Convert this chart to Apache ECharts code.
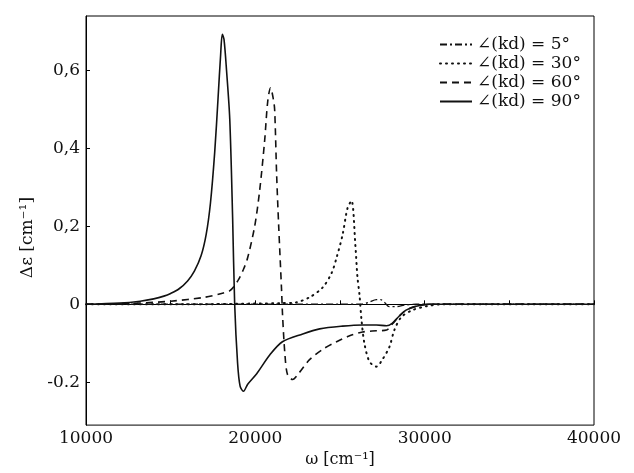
<!DOCTYPE html>
<html>
<head>
<meta charset="utf-8">
<script src="https://cdn.jsdelivr.net/npm/echarts@6/dist/echarts.min.js"></script>
<style>
  html, body { margin: 0; padding: 0; background: #fff; }
  #main { width: 634px; height: 473px; }
</style>
</head>
<body>
<div id="main"></div>
<script>
// omega [cm-1] and delta epsilon values
var w5 = [10000, 14000, 18000, 22000, 25000, 26200, 26700, 27150, 27400, 27650, 27900, 28300, 28800, 29500, 32000, 40000];
var d5 = [0, 0, 0, 0, 0, 0, 0.005, 0.012, 0.012, 0.004, -0.006, -0.006, -0.002, 0, 0, 0];

var w30 = [10000, 16000, 20000, 21500, 22400, 23200, 23970, 24500, 24800, 25150, 25440, 25680, 25910, 26030, 26150, 26270, 26440, 26740, 27150, 27500, 27920, 28210, 28620, 29270, 30100, 31000, 40000];
var d30 = [0, 0, 0.002, 0.003, 0.005, 0.018, 0.043, 0.08, 0.12, 0.178, 0.246, 0.266, 0.15, 0.07, 0.025, -0.04, -0.10, -0.147, -0.16, -0.142, -0.109, -0.066, -0.033, -0.015, -0.005, 0, 0];

var w60 = [10000, 13000, 15000, 17000, 18000, 18500, 18960, 19300, 19550, 19960, 20250, 20550, 20730, 20900, 21050, 21140, 21260, 21380, 21550, 21610, 21750, 21900, 22200, 22600, 23200, 24000, 24800, 25500, 26330, 27150, 27750, 28100, 28500, 28900, 29500, 30300, 40000];
var d60 = [0, 0.003, 0.008, 0.018, 0.028, 0.035, 0.06, 0.09, 0.12, 0.2, 0.29, 0.42, 0.52, 0.556, 0.53, 0.5, 0.33, 0.2, 0.036, -0.03, -0.13, -0.18, -0.193, -0.175, -0.142, -0.115, -0.096, -0.082, -0.071, -0.068, -0.066, -0.05, -0.03, -0.015, -0.005, 0, 0];

var w90 = [10000, 12000, 13200, 14000, 14600, 15000, 15500, 16000, 16400, 16800, 17100, 17350, 17600, 17800, 17950, 18050, 18150, 18300, 18490, 18660, 18780, 18950, 19100, 19300, 19550, 20080, 20850, 21600, 22800, 23800, 25150, 26330, 27150, 27750, 28100, 28500, 28900, 29500, 30300, 33000, 40000];
var d90 = [0, 0.003, 0.008, 0.014, 0.021, 0.028, 0.04, 0.06, 0.085, 0.125, 0.18, 0.26, 0.39, 0.53, 0.64, 0.693, 0.68, 0.6, 0.475, 0.22, 0, -0.15, -0.21, -0.223, -0.205, -0.178, -0.13, -0.096, -0.076, -0.063, -0.056, -0.053, -0.053, -0.055, -0.048, -0.03, -0.015, -0.005, 0, 0, 0];

var seriesNames = ['∠(kd) = 5°', '∠(kd) = 30°', '∠(kd) = 60°', '∠(kd) = 90°'];

var xTicks = [10000, 20000, 30000, 40000];
var xMinorTicks = [10000, 15000, 20000, 25000, 30000, 35000, 40000];
var yTicks = [-0.2, 0, 0.2, 0.4, 0.6];
var yTickText = ['-0.2', '0', '0,2', '0,4', '0,6'];

function pairs(xs, ys) {
    var out = [];
    for (var i = 0; i < xs.length; i++) {
        out.push([xs[i], ys[i]]);
    }
    return out;
}

var font = 'DejaVu Serif';
var ink = '#111';
var chart = echarts.init(document.getElementById('main'));

chart.setOption({
    animation: false,
    backgroundColor: '#fff',
    color: [ink, ink, ink, ink],
    grid: {
        left: 86, right: 40, top: 16, bottom: 43,
        show: true, borderColor: '#000', borderWidth: 1
    },
    legend: {
        orient: 'vertical',
        left: 434,
        top: 31,
        itemWidth: 32,
        itemHeight: 14,
        itemGap: 2,
        itemStyle: { opacity: 0 },
        textStyle: { fontFamily: font, fontSize: 17, color: ink },
        data: seriesNames
    },
    xAxis: {
        type: 'value',
        min: 10000,
        max: 40000,
        interval: 10000,
        name: 'ω [cm⁻¹]',
        nameLocation: 'middle',
        nameGap: 24,
        nameTextStyle: { fontFamily: font, fontSize: 16, color: ink },
        axisLine: { lineStyle: { color: '#000', width: 1 } },
        axisTick: { inside: true, length: 4, customValues: xMinorTicks, lineStyle: { color: '#000' } },
        axisLabel: {
            customValues: xTicks,
            margin: 5,
            fontFamily: font, fontSize: 17, color: ink,
            formatter: function (v) { return String(v); }
        },
        splitLine: { show: false }
    },
    yAxis: {
        type: 'value',
        min: -0.31,
        max: 0.74,
        name: 'Δε [cm⁻¹]',
        nameLocation: 'middle',
        nameGap: 36,
        nameTextStyle: { fontFamily: font, fontSize: 17, color: ink, padding: [0, 34, 0, 0] },
        axisLine: { show: true, lineStyle: { color: '#000', width: 1 } },
        axisTick: { show: true, inside: true, length: 4, customValues: yTicks, lineStyle: { color: '#000' } },
        axisLabel: {
            customValues: yTicks,
            margin: 6,
            fontFamily: font, fontSize: 17, color: ink,
            formatter: function (v) {
                for (var i = 0; i < yTicks.length; i++) {
                    if (Math.abs(yTicks[i] - v) < 1e-9) return yTickText[i];
                }
                return '';
            }
        },
        splitLine: { show: false }
    },
    series: [
        {
            name: seriesNames[0], type: 'line', data: pairs(w5, d5),
            showSymbol: false, symbol: 'none', smooth: 0.3,
            lineStyle: { color: ink, width: 1.4, type: [7, 3, 2, 3] }
        },
        {
            name: seriesNames[1], type: 'line', data: pairs(w30, d30),
            showSymbol: false, symbol: 'none', smooth: 0.3,
            lineStyle: { color: ink, width: 2, type: [1, 5], cap: 'round' }
        },
        {
            name: seriesNames[2], type: 'line', data: pairs(w60, d60),
            showSymbol: false, symbol: 'none', smooth: 0.3,
            lineStyle: { color: ink, width: 1.6, type: [7, 5] }
        },
        {
            name: seriesNames[3], type: 'line', data: pairs(w90, d90),
            showSymbol: false, symbol: 'none', smooth: 0.3,
            lineStyle: { color: ink, width: 1.6, type: 'solid' }
        }
    ]
});
</script>
</body>
</html>
